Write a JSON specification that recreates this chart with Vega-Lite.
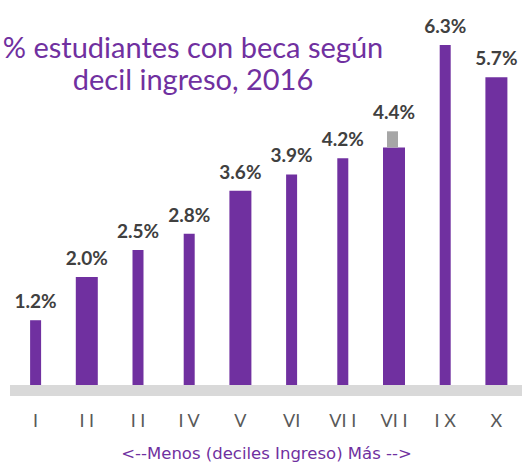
{
  "$schema": "https://vega.github.io/schema/vega-lite/v6.json",
  "width": 512,
  "height": 380,
  "autosize": {"type": "none"},
  "padding": {"left": 10, "top": 5, "right": 1, "bottom": 83},
  "background": "white",
  "config": {"view": {"stroke": null}, "font": "Lato"},
  "title": {
    "text": ["% estudiantes con beca según", "decil ingreso, 2016"],
    "color": "#7030A0",
    "fontSize": 29,
    "fontWeight": "normal",
    "font": "Lato",
    "anchor": "middle",
    "frame": "group",
    "dx": -73,
    "dy": 95,
    "lineHeight": 32
  },
  "data": {
    "values": [
      {"decil": "I", "pct": 1.2},
      {"decil": "II", "pct": 2.0},
      {"decil": "III", "pct": 2.5},
      {"decil": "IV", "pct": 2.8},
      {"decil": "V", "pct": 3.6},
      {"decil": "VI", "pct": 3.9},
      {"decil": "VII", "pct": 4.2},
      {"decil": "VIII", "pct": 4.4, "otro_desde": 4.4, "otro_hasta": 4.7},
      {"decil": "IX", "pct": 6.3},
      {"decil": "X", "pct": 5.7}
    ]
  },
  "layer": [
    {
      "data": {"values": [{"base": 0}]},
      "mark": {"type": "rule", "color": "#D9D9D9", "strokeWidth": 11, "yOffset": 5.5},
      "encoding": {
        "y": {"field": "base", "type": "quantitative", "scale": {"domain": [0, 7.04], "nice": false}, "axis": null}
      }
    },
    {
      "mark": {"type": "bar", "color": "#7030A0"},
      "encoding": {
        "x": {
          "field": "decil", "type": "ordinal", "sort": null,
          "scale": {"paddingInner": 0, "paddingOuter": 0},
          "axis": {
            "title": "<--Menos (deciles Ingreso) Más -->",
            "labelExpr": "{'I':'I','II':'I I','III':'I I','IV':'I V','V':'V','VI':'VI','VII':'VI I','VIII':'VI I','IX':'I X','X':'X'}[datum.value]",
            "domain": false, "ticks": false, "labelAngle": 0,
            "labelFontSize": 18, "labelColor": "#595959", "labelPadding": 27,
            "titleFont": "DejaVu Sans", "titleFontSize": 16.5, "titleColor": "#7030A0", "titleFontWeight": "normal", "titlePadding": 15
          }
        },
        "y": {"field": "pct", "type": "quantitative", "scale": {"domain": [0, 7.04], "nice": false}, "axis": null},
        "size": {"condition": {"test": "indexof(['II','V','VIII','X'], datum.decil) >= 0", "value": 22}, "value": 11}
      }
    },
    {
      "transform": [{"filter": "datum.otro_hasta != null"}],
      "mark": {"type": "bar", "color": "#A6A6A6", "size": 11, "xOffset": -1.5},
      "encoding": {
        "x": {"field": "decil", "type": "ordinal", "sort": null},
        "y": {"field": "otro_desde", "type": "quantitative"},
        "y2": {"field": "otro_hasta"}
      }
    },
    {
      "transform": [
        {"calculate": "format(datum.pct, '.1f') + '%'", "as": "etiqueta"},
        {"calculate": "datum.otro_hasta != null ? datum.otro_hasta : datum.pct", "as": "tope"}
      ],
      "mark": {"type": "text", "fontWeight": "bold", "fontSize": 19, "color": "#404040", "dy": -12, "baseline": "alphabetic"},
      "encoding": {
        "x": {"field": "decil", "type": "ordinal", "sort": null},
        "y": {"field": "tope", "type": "quantitative"},
        "text": {"field": "etiqueta"}
      }
    }
  ]
}
